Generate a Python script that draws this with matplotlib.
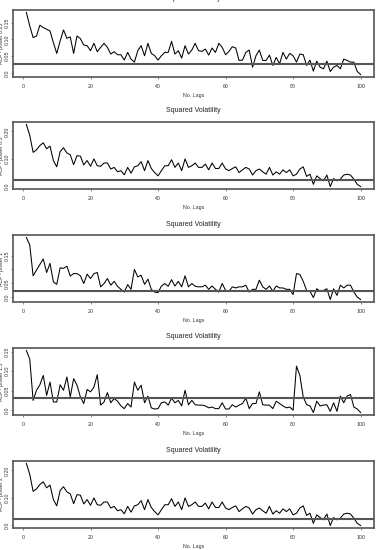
import numpy as np
import matplotlib.pyplot as plt

plt.rcParams['font.family'] = ['Liberation Sans', 'DejaVu Sans']

lags = np.arange(1, 101)

acf_p025 = [0.180, 0.140, 0.105, 0.110, 0.142, 0.135, 0.130, 0.125, 0.090, 0.058,
            0.095, 0.128, 0.103, 0.107, 0.058, 0.110, 0.102, 0.083, 0.081, 0.066,
            0.088, 0.063, 0.076, 0.088, 0.076, 0.056, 0.063, 0.054, 0.054, 0.038,
            0.061, 0.041, 0.032, 0.066, 0.081, 0.051, 0.088, 0.058, 0.051, 0.038,
            0.051, 0.061, 0.061, 0.094, 0.056, 0.066, 0.044, 0.081, 0.056, 0.068,
            0.088, 0.066, 0.064, 0.071, 0.053, 0.074, 0.061, 0.088, 0.076, 0.054,
            0.064, 0.078, 0.074, 0.037, 0.038, 0.061, 0.068, 0.017, 0.051, 0.068,
            0.037, 0.037, 0.053, 0.022, 0.046, 0.027, 0.061, 0.041, 0.058, 0.051,
            0.032, 0.056, 0.054, 0.022, 0.038, 0.005, 0.035, 0.017, 0.012, 0.035,
            0.004, 0.017, 0.022, 0.012, 0.041, 0.037, 0.032, 0.032, 0.004, -0.005]

acf_p05 = [0.225, 0.185, 0.123, 0.132, 0.148, 0.158, 0.136, 0.146, 0.093, 0.070,
           0.126, 0.140, 0.121, 0.114, 0.078, 0.111, 0.109, 0.077, 0.093, 0.072,
           0.099, 0.074, 0.072, 0.084, 0.084, 0.062, 0.068, 0.052, 0.056, 0.041,
           0.068, 0.047, 0.070, 0.074, 0.089, 0.056, 0.093, 0.064, 0.049, 0.037,
           0.056, 0.074, 0.074, 0.096, 0.068, 0.084, 0.056, 0.099, 0.068, 0.074,
           0.084, 0.068, 0.068, 0.080, 0.059, 0.084, 0.064, 0.064, 0.084, 0.062,
           0.056, 0.064, 0.070, 0.049, 0.059, 0.068, 0.062, 0.040, 0.056, 0.062,
           0.052, 0.043, 0.068, 0.040, 0.052, 0.043, 0.059, 0.049, 0.059, 0.037,
           0.043, 0.062, 0.070, 0.035, 0.043, 0.006, 0.037, 0.027, 0.019, 0.040,
           -0.002, 0.027, 0.019, 0.025, 0.040, 0.043, 0.040, 0.025, 0.006, -0.002]

acf_p1 = [0.216, 0.189, 0.077, 0.098, 0.118, 0.138, 0.089, 0.122, 0.055, 0.046,
          0.106, 0.104, 0.112, 0.076, 0.085, 0.085, 0.077, 0.049, 0.083, 0.067,
          0.085, 0.089, 0.037, 0.049, 0.067, 0.043, 0.057, 0.039, 0.028, 0.018,
          0.045, 0.028, 0.100, 0.073, 0.079, 0.046, 0.065, 0.028, 0.018, 0.016,
          0.040, 0.049, 0.039, 0.063, 0.040, 0.057, 0.037, 0.077, 0.037, 0.049,
          0.039, 0.037, 0.037, 0.043, 0.028, 0.040, 0.028, 0.018, 0.049, 0.024,
          0.021, 0.037, 0.033, 0.037, 0.037, 0.043, 0.018, 0.028, 0.028, 0.061,
          0.037, 0.028, 0.040, 0.021, 0.040, 0.033, 0.033, 0.028, 0.028, 0.009,
          0.085, 0.082, 0.057, 0.024, 0.021, -0.002, 0.030, 0.021, 0.024, 0.030,
          -0.009, 0.030, 0.006, 0.043, 0.033, 0.043, 0.043, 0.018, 0.000, -0.009]

acf_p15 = [0.153, 0.131, 0.025, 0.051, 0.065, 0.089, 0.038, 0.072, 0.021, 0.021,
           0.065, 0.051, 0.085, 0.034, 0.081, 0.064, 0.034, 0.017, 0.053, 0.047,
           0.059, 0.091, 0.013, 0.021, 0.045, 0.019, 0.030, 0.023, 0.011, 0.004,
           0.017, 0.008, 0.072, 0.051, 0.064, 0.019, 0.036, 0.006, 0.003, 0.004,
           0.019, 0.021, 0.013, 0.031, 0.019, 0.025, 0.011, 0.051, 0.014, 0.025,
           0.014, 0.013, 0.013, 0.011, 0.006, 0.008, 0.004, 0.004, 0.019, 0.003,
           0.003, 0.014, 0.008, 0.013, 0.017, 0.031, 0.004, 0.017, 0.017, 0.047,
           0.014, 0.013, 0.013, 0.004, 0.023, 0.017, 0.011, 0.006, 0.008, 0.000,
           0.113, 0.089, 0.034, 0.014, 0.011, -0.006, 0.023, 0.011, 0.013, 0.014,
           -0.003, 0.019, -0.003, 0.036, 0.019, 0.036, 0.040, 0.008, 0.003, -0.006]

acf_p2 = list(acf_p05)

series = [acf_p025, acf_p05, acf_p1, acf_p15, acf_p2]
powers = ['0.25', '0.5', '1', '1.5', '2']
bands = [0.025, 0.022, 0.021, 0.031, 0.022]
yticks = [[0, 0.05, 0.10, 0.15], [0, 0.10, 0.20], [0, 0.05, 0.10, 0.15],
          [0, 0.05, 0.10, 0.15], [0, 0.10, 0.20]]
ytick_labels = [['0.0', '0.05', '0.10', '0.15'], ['0.0', '0.10', '0.20'],
                ['0.0', '0.05', '', '0.15'], ['0.0', '0.05', '0.10', '0.15'],
                ['0.0', '0.10', '0.20']]

W, H = 378, 550
fig = plt.figure(figsize=(W / 100, H / 100), dpi=100)

left, right = 13, 374
tops = [10, 122, 235, 348, 461]
box_h = 67
grey = '#555555'

for i, vals in enumerate(series):
    top = tops[i]
    ax = fig.add_axes([left / W, 1 - (top + box_h) / H, (right - left) / W, box_h / H])
    v = np.array(vals)
    ax.plot(lags, v, color='black', lw=0.75)
    ax.axhline(bands[i], color=grey, lw=1.5)

    lo, hi = v.min(), v.max()
    pad = 0.04 * (hi - lo)
    ax.set_ylim(lo - pad, hi + pad)
    ax.set_xlim(1 - 0.04 * 99, 100 + 0.04 * 99)

    for s in ax.spines.values():
        s.set_color(grey)
        s.set_linewidth(1.2)

    ax.set_xticks([0, 20, 40, 60, 80, 100])
    ax.set_yticks(yticks[i])
    ax.set_yticklabels(ytick_labels[i], rotation=90, va='center')
    ax.tick_params(axis='both', length=1.5, width=0.5, color=grey,
                   labelsize=3.8, labelcolor='#333333', pad=1.0)
    ax.tick_params(axis='x', pad=3.5)

    ax.set_xlabel('No. Lags', fontsize=3.8, color='#333333', labelpad=3)
    ax.set_ylabel('ACF - power ' + powers[i], fontsize=3.8, color='#333333')
    ax.yaxis.set_label_coords((4.5 - left) / (right - left), 0.5)

    # the first title sits mostly above the top edge, as in the source crop
    ty = top - 11 if i > 0 else top - 12
    fig.text(0.5 * (left + right) / W, 1 - ty / H, 'Squared Volatility',
             ha='center', va='center', fontsize=5.0, color='#222222')

fig.savefig('out.png', dpi=100)
